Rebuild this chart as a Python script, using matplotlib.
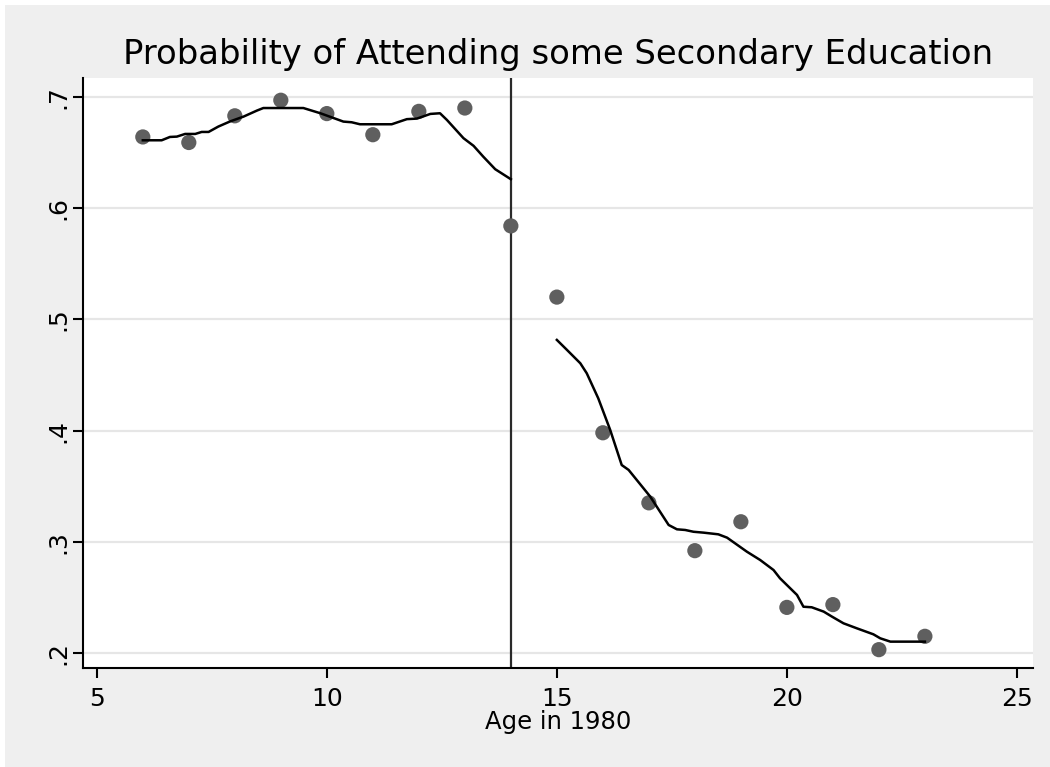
import matplotlib
matplotlib.use("Agg")
import matplotlib.pyplot as plt
from matplotlib.patches import Rectangle

# cell means (dots)
ages = [6, 7, 8, 9, 10, 11, 12, 13, 14, 15, 16, 17, 18, 19, 20, 21, 22, 23]
prob = [0.664, 0.659, 0.683, 0.697, 0.685, 0.666, 0.687, 0.690, 0.584,
        0.520, 0.398, 0.335, 0.292, 0.318, 0.241, 0.2435, 0.203, 0.215]

# smoothed fit, left of the cutoff
fit_left_x = [6.0, 6.41, 6.59, 6.74, 6.92, 7.14, 7.28, 7.43, 7.64, 7.90, 8.19,
              8.48, 8.62, 9.49, 9.86, 10.36, 10.54, 10.72, 11.41, 11.74, 11.96,
              12.25, 12.46, 12.61, 12.97, 13.19, 13.40, 13.66, 14.0]
fit_left_y = [0.661, 0.661, 0.664, 0.6643, 0.6667, 0.6667, 0.6685, 0.6685, 0.6733,
              0.678, 0.6823, 0.6877, 0.690, 0.690, 0.6853, 0.6778, 0.6772, 0.6754,
              0.6754, 0.680, 0.6805, 0.6847, 0.6853, 0.6793, 0.6629, 0.656, 0.6463,
              0.635, 0.626]

# smoothed fit, right of the cutoff
fit_right_x = [15.0, 15.22, 15.51, 15.65, 15.90, 16.16, 16.41, 16.56, 17.03, 17.43,
               17.61, 17.79, 17.97, 18.19, 18.51, 18.70, 19.13, 19.42, 19.71, 19.85,
               20.22, 20.36, 20.54, 20.80, 20.98, 21.23, 21.52, 21.88, 22.03, 22.25,
               23.0]
fit_right_y = [0.4815, 0.4725, 0.4605, 0.4515, 0.429, 0.4005, 0.369, 0.3646, 0.3406,
               0.3151, 0.3112, 0.3106, 0.309, 0.3082, 0.3067, 0.3037, 0.2911, 0.2836,
               0.2746, 0.2672, 0.2522, 0.2416, 0.2411, 0.2372, 0.2327, 0.2267, 0.2222,
               0.2168, 0.2132, 0.2102, 0.2102]

cutoff = 14
xticks = [5, 10, 15, 20, 25]
yticks = [0.2, 0.3, 0.4, 0.5, 0.6, 0.7]
ytick_labels = [".2", ".3", ".4", ".5", ".6", ".7"]

plt.rcParams["font.family"] = ["DejaVu Sans"]

fig = plt.figure(figsize=(10.5, 7.67), dpi=100, facecolor="#efefef")
# thin white strips at the top and left edge of the screenshot
fig.add_artist(Rectangle((0, 0), 5 / 1050, 1, transform=fig.transFigure,
                         facecolor="white", edgecolor="none", zorder=-5))
fig.add_artist(Rectangle((0, 762 / 767), 1, 5 / 767, transform=fig.transFigure,
                         facecolor="white", edgecolor="none", zorder=-5))

ax = fig.add_axes([83 / 1050, (767 - 668) / 767, 950 / 1050, 590 / 767])
ax.set_facecolor("white")

ax.set_yticks(yticks)
ax.set_yticklabels(ytick_labels, rotation=90, va="center")
ax.set_xticks(xticks)
ax.grid(axis="y", color="#e6e6e6", linewidth=1.6, zorder=0)
ax.set_axisbelow(True)

ax.axvline(cutoff, color="#2a2a2a", linewidth=1.6, zorder=2)
ax.scatter(ages, prob, s=120, color="#5f5f5f", edgecolors="none", zorder=3)
ax.plot(fit_left_x, fit_left_y, color="black", linewidth=1.8, zorder=4)
ax.plot(fit_right_x, fit_right_y, color="black", linewidth=1.8, zorder=4)

ax.set_xlim(4.70, 25.35)
ax.set_ylim(0.1865, 0.717)

for side in ("top", "right"):
    ax.spines[side].set_visible(False)
for side in ("left", "bottom"):
    ax.spines[side].set_linewidth(1.5)
ax.tick_params(axis="both", direction="out", length=7, width=1.5,
               labelsize=18, colors="black")
ax.tick_params(axis="x", pad=7)
ax.tick_params(axis="y", pad=2)

ax.set_xlabel("Age in 1980", fontsize=17.5, labelpad=-1)
ax.set_title("Probability of Attending some Secondary Education", fontsize=24.4, pad=10)

fig.savefig("out.png", dpi=100, facecolor=fig.get_facecolor())
plt.close(fig)
